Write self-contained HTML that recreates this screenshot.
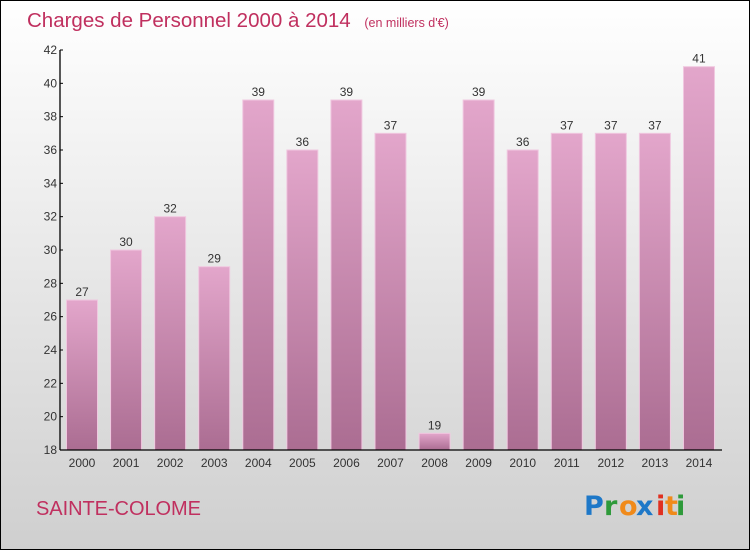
<!DOCTYPE html>
<html><head><meta charset="utf-8"><style>
body{margin:0}
svg{display:block;font-family:"Liberation Sans",sans-serif}
</style></head><body>
<svg width="750" height="550" viewBox="0 0 750 550">
<defs>
<linearGradient id="bg" x1="0" y1="0" x2="0" y2="1"><stop offset="0" stop-color="#ffffff"/><stop offset="1" stop-color="#cfcfcf"/></linearGradient>
<linearGradient id="bar" x1="0" y1="0" x2="0" y2="1"><stop offset="0" stop-color="#e3a6cb"/><stop offset="1" stop-color="#ab6d92"/></linearGradient>
</defs>
<rect x="0.5" y="0.5" width="749" height="549" fill="url(#bg)" stroke="#000"/>
<text x="27" y="27" font-size="20.5" fill="#c0305f">Charges de Personnel 2000 à 2014 <tspan font-size="12.5" dx="8">(en milliers d'€)</tspan></text>
<g id="bars"></g>
<g id="axes"></g>
<text x="36" y="515" font-size="20" fill="#c0305f" textLength="165">SAINTE-COLOME</text>
<g font-size="27" font-weight="bold" font-family="'DejaVu Sans',sans-serif">
<text x="584" y="515" fill="#1e78c8">P</text><text x="604" y="515" fill="#2e9a3a">r</text><text x="619" y="515" fill="#f08a1a">o</text><text x="636" y="515" fill="#1e78c8">x</text><text x="656" y="515" fill="#e03020">i</text><text x="665" y="515" fill="#f08a1a">t</text><text x="676" y="515" fill="#2e9a3a">i</text>
</g>
</svg>
<script>
const years=["2000","2001","2002","2003","2004","2005","2006","2007","2008","2009","2010","2011","2012","2013","2014"];
const values=[27,30,32,29,39,36,39,37,19,39,36,37,37,37,41];
const yTicks=[18,20,22,24,26,28,30,32,34,36,38,40,42];
const NS="http://www.w3.org/2000/svg";
const y=v=>450-(v-18)*400/24;
const xc=i=>82+i*44.07;
const bw=31;
const bars=document.getElementById('bars'),axes=document.getElementById('axes');
function mk(tag,attrs,parent){const e=document.createElementNS(NS,tag);for(const k in attrs)e.setAttribute(k,attrs[k]);parent.appendChild(e);return e;}
values.forEach((v,i)=>{
  const r=mk('rect',{x:xc(i)-bw/2,y:y(v),width:bw,height:450-y(v),fill:'url(#bar)',stroke:'#f0c8e0','stroke-width':1},bars);
  
  
  const t=mk('text',{x:xc(i),y:y(v)-4,'text-anchor':'middle','font-size':12,fill:'#333'},bars);
  t.textContent=v;
  
  
  const xl=mk('text',{x:xc(i),y:467,'text-anchor':'middle','font-size':12,fill:'#333'},axes);
  xl.textContent=years[i];
  
  
});
const ya=mk('line',{x1:60,y1:50,x2:60,y2:450,stroke:'#000','stroke-width':1.3},axes);


const xa=mk('line',{x1:60,y1:450,x2:722,y2:450,stroke:'#000','stroke-width':1.3},axes);


yTicks.forEach(v=>{
  mk('line',{x1:60,y1:y(v),x2:63,y2:y(v),stroke:'#000'},axes);
  const t=mk('text',{x:57,y:y(v)+4,'text-anchor':'end','font-size':12,fill:'#333'},axes);
  t.textContent=v;
  
  
});
</script>
</body></html>
